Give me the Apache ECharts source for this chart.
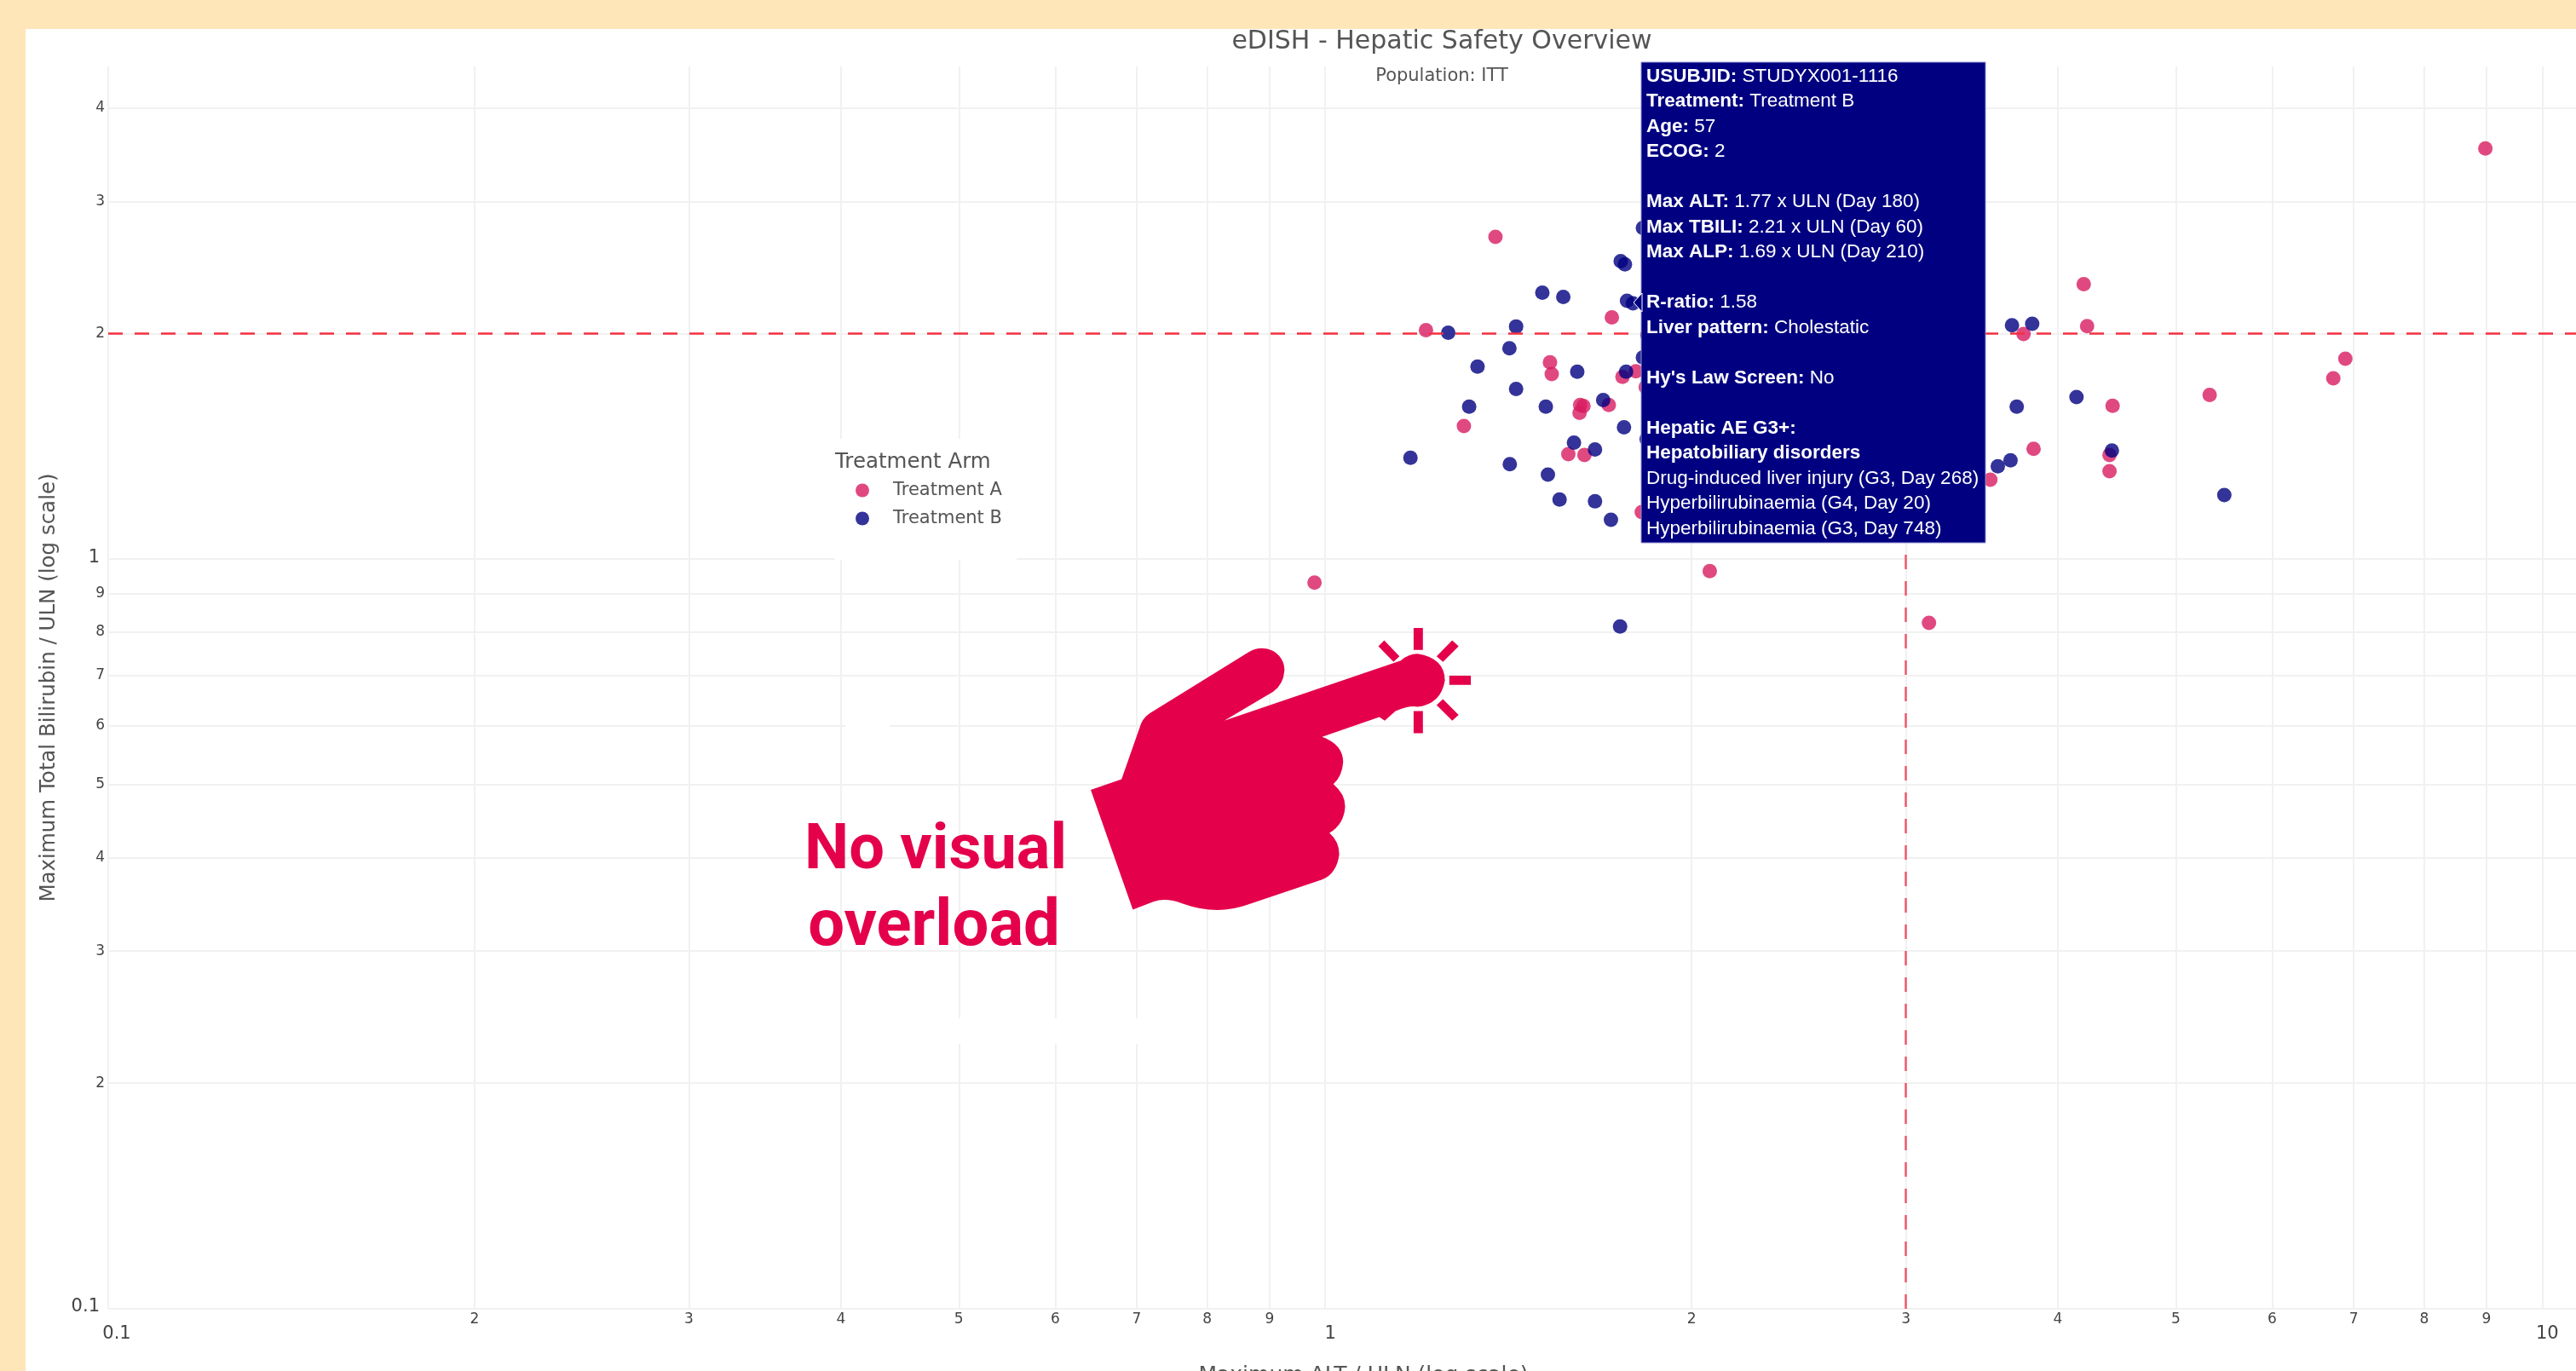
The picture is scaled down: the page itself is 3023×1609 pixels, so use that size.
<!DOCTYPE html>
<html>
<head>
<meta charset="utf-8">
<style>html,body{margin:0;padding:0;background:#fff}#c{width:3023px;height:1609px}</style>
<script src="https://cdn.jsdelivr.net/npm/echarts@6/dist/echarts.min.js"></script>
</head>
<body>
<div id="c"></div>
<script>
const altA = [1.38,1.21,1.72,1.53,1.535,1.80,1.755,1.62,1.63,1.618,1.71,1.30,1.584,1.633,1.82,1.834,8.98,4.20,4.227,3.748,6.89,6.735,5.33,4.436,3.82,4.41,4.41,3.52,0.98,2.07,3.134];
const biliA = [2.69,2.02,2.10,1.83,1.765,1.78,1.75,1.605,1.60,1.567,1.605,1.505,1.38,1.377,1.155,1.696,3.53,2.327,2.045,1.996,1.85,1.742,1.655,1.601,1.403,1.377,1.31,1.276,0.93,0.964,0.822];
const altB = [1.508,1.569,1.749,1.763,1.824,1.77,1.79,1.435,1.262,1.417,1.334,1.611,1.767,1.824,1.84,1.435,1.313,1.518,1.692,1.76,1.601,1.666,1.175,1.418,1.524,1.558,1.666,1.717,1.837,3.667,3.81,4.143,3.70,4.43,3.657,3.57,5.48,1.747];
const biliB = [2.266,2.237,2.497,2.473,2.765,2.21,2.193,2.043,2.004,1.91,1.806,1.778,1.778,1.858,1.99,1.686,1.597,1.597,1.63,1.499,1.43,1.40,1.365,1.338,1.296,1.201,1.194,1.128,1.446,2.05,2.06,1.645,1.597,1.396,1.354,1.33,1.217,0.813];
const xTicks = [0.1,0.2,0.3,0.4,0.5,0.6,0.7,0.8,0.9,1,2,3,4,5,6,7,8,9,10];
const yTicks = [0.1,0.2,0.3,0.4,0.5,0.6,0.7,0.8,0.9,1,2,3,4];
const bigTicks = [0.1,1,10];
const altLimit = 3, biliLimit = 2;
const tipLines = [
 ['USUBJID:',' STUDYX001-1116'],['Treatment:',' Treatment B'],['Age:',' 57'],['ECOG:',' 2'],[],
 ['Max ALT:',' 1.77 x ULN (Day 180)'],['Max TBILI:',' 2.21 x ULN (Day 60)'],['Max ALP:',' 1.69 x ULN (Day 210)'],[],
 ['R-ratio:',' 1.58'],['Liver pattern:',' Cholestatic'],[],
 ["Hy's Law Screen:",' No'],[],
 ['Hepatic AE G3+:',''],['Hepatobiliary disorders',''],
 ['','Drug-induced liver injury (G3, Day 268)'],['','Hyperbilirubinaemia (G4, Day 20)'],['','Hyperbilirubinaemia (G3, Day 748)']
];
const zip = (a,b)=>a.map((v,i)=>[v,b[i]]);
const FONT = '"DejaVu Sans"';
const tickText = v => {
  const r = Math.round(v*10)/10;
  if (r === 0.1) return '{first|0.1}';
  if (bigTicks.includes(r)) return '{big|'+r+'}';
  return '{s|'+String(r).replace('0.','')+'}';
};
const chart = echarts.init(document.getElementById('c'),null,{renderer:'canvas'});
const grid = {left:127,top:78,width:2896,height:1458,containLabel:false,outerBoundsMode:'none'};
const gridLine = {show:true,lineStyle:{color:'#F1F1F1',width:2}};
const tipEls = tipLines.map((l,i)=>({
  type:'text',x:1932,y:89.5+29.5*i,
  style:{text:l.length?(l[0]?'{b|'+l[0]+'}':'')+(l[1]?'{n|'+l[1]+'}':''):'',verticalAlign:'middle',
    rich:{b:{fill:'#fff',fontFamily:'Liberation Sans',fontWeight:'bold',fontSize:22.5},
          n:{fill:'#fff',fontFamily:'Liberation Sans',fontSize:22.5}}},
  z:16
}));
const handPath = 'M662 668 L725 638 L765 480 Q772 458 790 445 L985 278 Q1010 258 1035 275 Q1058 295 1058 330 Q1056 370 1035 390 L935 472 L1296 302 Q1312 283 1330 283 Q1385 295 1386 358 Q1378 425 1330 433 Q1315 428 1285 445 L1263 472 L1252 462 L1135 518 Q1178 540 1178 590 Q1176 630 1158 652 Q1182 680 1182 715 Q1180 765 1150 790 Q1170 815 1170 850 Q1165 905 1135 922 L985 992 Q920 1025 850 990 Q815 972 790 985 L748 1007 Z';
const rayPath = 'M1322 210H1341V272H1322Z M1322 445H1341V508H1322Z M1395 345H1439V371H1395Z M1262 245L1293 290L1281 306L1250 262Z M1401 245L1414 262L1382 306L1369 290Z M1382 411L1414 456L1401 472L1369 428Z';
chart.setOption({
  animation:false,
  backgroundColor:'#fff',
  textStyle:{fontFamily:FONT},
  title:[
    {text:'eDISH - Hepatic Safety Overview',left:1687,top:29,textAlign:'center',textStyle:{fontFamily:FONT,fontSize:30,fontWeight:'normal',color:'#555'}},
    {text:'Population: ITT',left:1687,top:74,textAlign:'center',textStyle:{fontFamily:FONT,fontSize:21,fontWeight:'normal',color:'#555'}}
  ],
  grid,
  legend:{left:1004,top:565,orient:'vertical',itemWidth:16,itemHeight:16,itemGap:12,icon:'circle',z:20,padding:0,
    textStyle:{fontFamily:FONT,fontSize:21,color:'#555',padding:[0,0,0,23]},data:['Treatment A','Treatment B']},
  xAxis:{type:'log',logBase:10,min:0.1,max:10.66,
    name:'Maximum ALT / ULN (log scale)',nameLocation:'middle',nameGap:66,
    nameTextStyle:{fontFamily:FONT,fontSize:25,color:'#555',padding:[0,0,0,50]},
    axisLine:{show:false},axisTick:{show:false,customValues:xTicks},minorTick:{show:false},
    splitLine:gridLine,
    axisLabel:{customValues:xTicks,margin:4,formatter:tickText,
      rich:{s:{fontFamily:FONT,fontSize:17,color:'#444'},
            big:{fontFamily:FONT,fontSize:21,color:'#444',padding:[15,0,0,12]},
            first:{fontFamily:FONT,fontSize:21,color:'#444',padding:[15,0,0,20]}}}},
  yAxis:{type:'log',logBase:10,min:0.1,max:4.54,
    name:'Maximum Total Bilirubin / ULN (log scale)',nameLocation:'middle',nameGap:57,nameRotate:90,
    nameTextStyle:{fontFamily:FONT,fontSize:24.5,color:'#555'},
    axisLine:{show:false},axisTick:{show:false,customValues:yTicks},minorTick:{show:false},
    splitLine:gridLine,
    axisLabel:{customValues:yTicks,margin:4,formatter:tickText,
      rich:{s:{fontFamily:FONT,fontSize:17,color:'#444'},
            big:{fontFamily:FONT,fontSize:21,color:'#444',padding:[0,6,4,0]},
            first:{fontFamily:FONT,fontSize:21,color:'#444',padding:[0,6,4,0]}}}},
  series:[
    {name:'Treatment A',type:'scatter',symbolSize:17,data:zip(altA,biliA),itemStyle:{color:'#D81B60',opacity:0.8},
     markLine:{silent:true,symbol:'none',label:{show:false},
       data:[{yAxis:biliLimit,lineStyle:{color:'#F43040',width:2.5,type:[17,14],opacity:1}},
             {xAxis:altLimit,lineStyle:{color:'#EC5A6C',width:2.5,type:[17,14],opacity:1}}]}},
    {name:'Treatment B',type:'scatter',symbolSize:17,data:zip(altB,biliB),itemStyle:{color:'#000080',opacity:0.8}},
    {type:'custom',coordinateSystem:'none',silent:true,z:10,data:[[0]],renderItem:()=>({type:'group',children:[
      {type:'path',x:900,y:650,scaleX:1/1.742,scaleY:1/2.412,shape:{pathData:handPath},style:{fill:'#E4004B'}},
      {type:'path',x:900,y:650,scaleX:1/1.742,scaleY:1/2.412,shape:{pathData:rayPath},style:{fill:'#E4004B'}}
    ]})}
  ],
  graphic:[
    {type:'rect',shape:{x:0,y:0,width:3023,height:34},style:{fill:'#FFE6B9'},z:30},
    {type:'rect',shape:{x:0,y:0,width:30,height:1609},style:{fill:'#FFE6B9'},z:30},
    {type:'rect',shape:{x:980,y:515,width:213,height:142.5},style:{fill:'#fff'},z:1},
    {type:'rect',shape:{x:992,y:846,width:52,height:10},style:{fill:'#fff'},z:1},
    {type:'rect',shape:{x:1114,y:1195,width:222,height:30},style:{fill:'#fff'},z:1},
    {type:'text',x:980,y:543,style:{text:'Treatment Arm',fontFamily:FONT,fontSize:24.5,fill:'#555',verticalAlign:'middle'},z:21},
    {type:'text',x:1098,y:1000,style:{text:'No visual',fontFamily:'Roboto',fontWeight:'bold',fontSize:74,fill:'#E4004B',align:'center',verticalAlign:'middle'},z:11},
    {type:'text',x:1096,y:1090,style:{text:'overload',fontFamily:'Roboto',fontWeight:'bold',fontSize:76,fill:'#E4004B',align:'center',verticalAlign:'middle'},z:11},
    {type:'rect',shape:{x:1926,y:73,width:404,height:564},style:{fill:'#000080',stroke:'#8F8FD0',lineWidth:1},z:15},
    {type:'polygon',shape:{points:[[1927,344],[1917,355],[1927,366]]},style:{fill:'#000080',stroke:'#fff',lineWidth:1},z:15},
    ...tipEls
  ]
});
</script>
</body>
</html>
